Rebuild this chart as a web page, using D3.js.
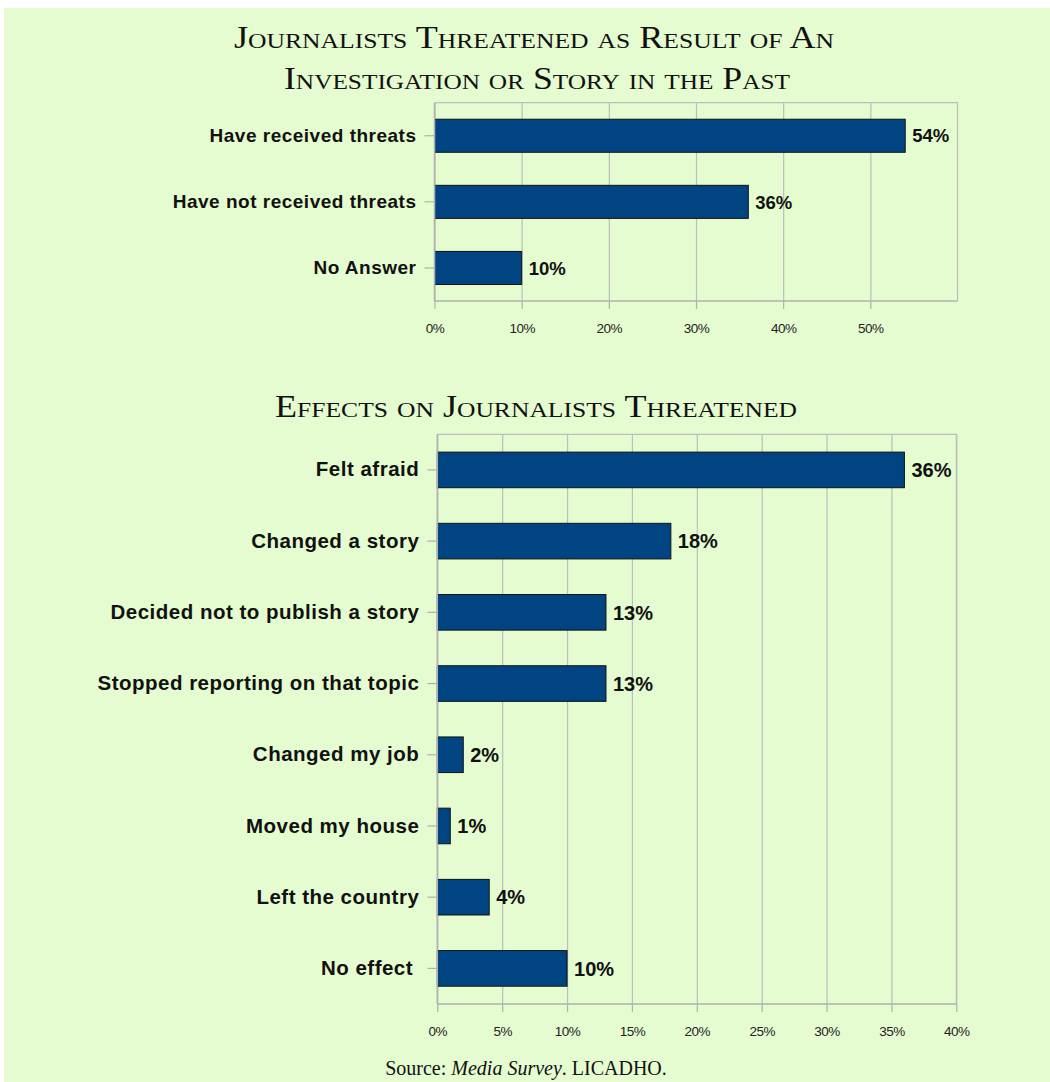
<!DOCTYPE html>
<html>
<head>
<meta charset="utf-8">
<script src="https://cdn.jsdelivr.net/npm/d3@7"></script>
<style>
  html, body { margin: 0; padding: 0; background: #ffffff; }
  svg { display: block; }
</style>
</head>
<body>
<svg id="chart" width="1050" height="1082"></svg>
<script>
// ---- data -------------------------------------------------------------
const threatCategories = ["Have received threats", "Have not received threats", "No Answer"];
const threatValues = [54, 36, 10];
const threatTicks = [0, 10, 20, 30, 40, 50];
const threatMax = 60;

const effectCategories = [
  "Felt afraid",
  "Changed a story",
  "Decided not to publish a story",
  "Stopped reporting on that topic",
  "Changed my job",
  "Moved my house",
  "Left the country",
  "No effect "
];
const effectValues = [36, 18, 13, 13, 2, 1, 4, 10];
const effectTicks = [0, 5, 10, 15, 20, 25, 30, 35, 40];
const effectMax = 40;

const titleTopLines = ["Journalists Threatened as Result of An", "Investigation or Story in the Past"];
const titleBottom = "Effects on Journalists Threatened";

// ---- styles -----------------------------------------------------------
const BG = "#e5fcd0";
const BAR = "#004582";
const GRID = "#bdbdbd";
const AXIS = "#b0b0b0";
const SANS = "'Liberation Sans', Arial, sans-serif";
const SERIF = "'Liberation Serif', 'Times New Roman', serif";

const svg = d3.select("#chart");

svg.append("rect")
  .attr("x", 4).attr("y", 8)
  .attr("width", 1046).attr("height", 1074)
  .attr("fill", BG);

// small-caps serif headings
function heading(text, cx, y, width) {
  svg.append("text")
    .attr("x", cx).attr("y", y)
    .attr("text-anchor", "middle")
    .attr("font-family", SERIF)
    .attr("font-size", 31)
    .style("font-variant", "small-caps")
    .attr("fill", "#111")
    .attr("textLength", width)
    .attr("lengthAdjust", "spacingAndGlyphs")
    .text(text);
}

heading(titleTopLines[0], 534, 48, 600);
heading(titleTopLines[1], 537, 89, 506);
heading(titleBottom, 536, 417, 522);

// horizontal bar panel
function barPanel(opts) {
  const { categories, values, ticks, max, left, right, top, bottom,
          catSize, catSpacing, valSize } = opts;

  const x = d3.scaleLinear().domain([0, max]).range([left, right]);
  const y = d3.scaleBand().domain(categories).range([top, bottom])
    .paddingInner(0.5).paddingOuter(0.25);

  const g = svg.append("g");

  // vertical gridlines
  g.append("g")
    .attr("transform", `translate(0,${bottom})`)
    .call(d3.axisBottom(x).tickValues(ticks).tickSize(-(bottom - top)).tickFormat(""))
    .call(s => s.select(".domain").remove())
    .call(s => s.selectAll(".tick line").attr("stroke", GRID).attr("stroke-width", 1.2));

  // frame: top and right edges
  g.append("path")
    .attr("d", `M${left},${top}H${right}V${bottom}`)
    .attr("fill", "none")
    .attr("stroke", GRID)
    .attr("stroke-width", 1.2);

  // bars
  g.selectAll("rect.bar")
    .data(values)
    .join("rect")
    .attr("class", "bar")
    .attr("x", x(0))
    .attr("y", (d, i) => y(categories[i]))
    .attr("width", d => x(d) - x(0))
    .attr("height", y.bandwidth())
    .attr("fill", BAR)
    .attr("stroke", "#111")
    .attr("stroke-width", 1);

  // value labels
  g.selectAll("text.val")
    .data(values)
    .join("text")
    .attr("class", "val")
    .attr("x", d => x(d) + 7)
    .attr("y", (d, i) => y(categories[i]) + y.bandwidth() / 2)
    .attr("dy", "0.36em")
    .attr("font-family", SANS)
    .attr("font-weight", "bold")
    .attr("font-size", valSize)
    .attr("fill", "#111")
    .text(d => d + "%");

  // category axis
  g.append("g")
    .attr("transform", `translate(${left},0)`)
    .call(d3.axisLeft(y).tickSize(10).tickPadding(8))
    .call(s => s.select(".domain").attr("stroke", AXIS).attr("stroke-width", 1.5)
      .attr("d", `M0,${top}V${bottom}`))
    .call(s => s.selectAll(".tick line").attr("stroke", AXIS).attr("stroke-width", 1.2))
    .call(s => s.selectAll(".tick text")
      .attr("font-family", SANS)
      .attr("font-weight", "bold")
      .attr("font-size", catSize)
      .attr("letter-spacing", catSpacing)
      .style("white-space", "pre")
      .attr("fill", "#111"));

  // value axis
  g.append("g")
    .attr("transform", `translate(0,${bottom})`)
    .call(d3.axisBottom(x).tickValues(ticks).tickSize(8).tickFormat(d => d + "%"))
    .call(s => s.select(".domain").attr("stroke", AXIS).attr("stroke-width", 1.5)
      .attr("d", `M${left},0H${right}`))
    .call(s => s.selectAll(".tick line").attr("stroke", AXIS).attr("stroke-width", 1.2))
    .call(s => s.selectAll(".tick text")
      .attr("y", 27).attr("dy", "0.35em")
      .attr("font-family", SANS)
      .attr("font-size", 13.5)
      .attr("letter-spacing", -0.5)
      .attr("fill", "#222"));
}

barPanel({
  categories: threatCategories, values: threatValues, ticks: threatTicks, max: threatMax,
  left: 434.5, right: 957.5, top: 102.7, bottom: 301,
  catSize: 19, catSpacing: 0.5, valSize: 18.5
});

barPanel({
  categories: effectCategories, values: effectValues, ticks: effectTicks, max: effectMax,
  left: 437.3, right: 956.3, top: 434.3, bottom: 1004,
  catSize: 20.5, catSpacing: 0.5, valSize: 20
});

// source line
const src = svg.append("text")
  .attr("x", 526).attr("y", 1075)
  .attr("text-anchor", "middle")
  .attr("font-family", SERIF)
  .attr("font-size", 20)
  .attr("fill", "#111");
src.append("tspan").text("Source: ");
src.append("tspan").attr("font-style", "italic").text("Media Survey");
src.append("tspan").text(". LICADHO.");
</script>
</body>
</html>
